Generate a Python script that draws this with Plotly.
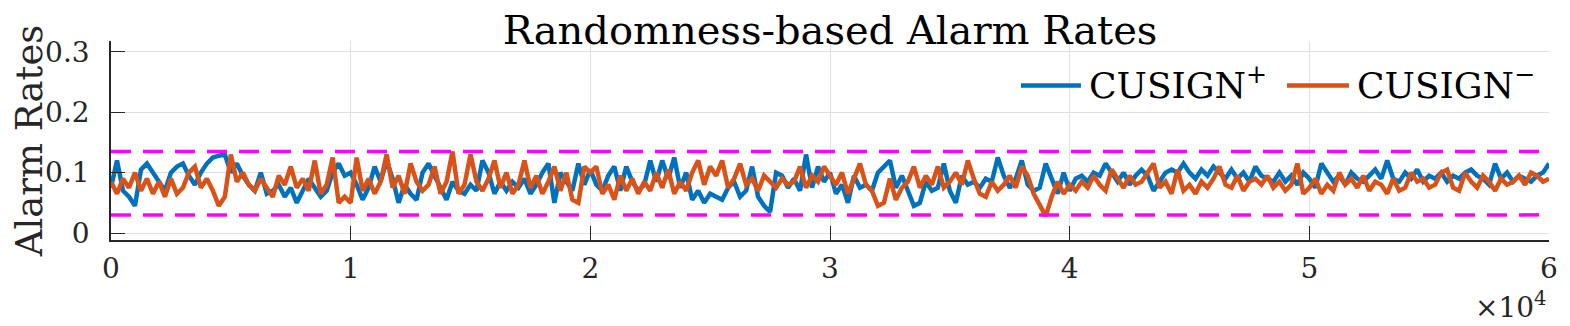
import plotly.graph_objects as go

SAMPLE_STEP = 250

CUSIGN_PLUS = [
    0.075, 0.12, 0.07, 0.06, 0.045, 0.105, 0.115, 0.1, 0.085, 0.07,
    0.1, 0.11, 0.115, 0.095, 0.08, 0.1, 0.115, 0.125, 0.128, 0.13,
    0.1, 0.115, 0.095, 0.08, 0.07, 0.1, 0.065, 0.07, 0.08, 0.06,
    0.075, 0.05, 0.07, 0.09, 0.075, 0.06, 0.07, 0.1, 0.115, 0.095,
    # 1e4
    0.1, 0.08, 0.055, 0.075, 0.11, 0.085, 0.12, 0.09, 0.05, 0.08,
    0.065, 0.055, 0.1, 0.115, 0.095, 0.075, 0.055, 0.085, 0.07, 0.065,
    0.08, 0.07, 0.12, 0.1, 0.065, 0.085, 0.07, 0.085, 0.075, 0.09,
    0.065, 0.08, 0.1, 0.115, 0.05, 0.1, 0.085, 0.07, 0.115, 0.08,
    # 2e4
    0.105, 0.08, 0.07, 0.095, 0.11, 0.07, 0.11, 0.085, 0.07, 0.08,
    0.12, 0.085, 0.12, 0.09, 0.125, 0.075, 0.1, 0.055, 0.07, 0.05,
    0.065, 0.06, 0.055, 0.075, 0.085, 0.06, 0.07, 0.11, 0.06, 0.045,
    0.035, 0.1, 0.095, 0.075, 0.09, 0.07, 0.13, 0.075, 0.11, 0.085,
    # 3e4
    0.1, 0.065, 0.08, 0.05, 0.095, 0.075, 0.08, 0.07, 0.1, 0.11,
    0.12, 0.075, 0.095, 0.07, 0.045, 0.05, 0.085, 0.07, 0.075, 0.115,
    0.07, 0.05, 0.095, 0.08, 0.085, 0.075, 0.09, 0.085, 0.125, 0.095,
    0.075, 0.09, 0.12, 0.08, 0.07, 0.075, 0.115, 0.09, 0.065, 0.1,
    # 4e4
    0.07, 0.09, 0.095, 0.085, 0.1, 0.095, 0.115, 0.1, 0.085, 0.1,
    0.08, 0.095, 0.105, 0.095, 0.07, 0.085, 0.1, 0.105, 0.1, 0.115,
    0.1, 0.09, 0.105, 0.095, 0.11, 0.1, 0.09, 0.105, 0.09, 0.1,
    0.085, 0.11, 0.095, 0.09, 0.085, 0.1, 0.085, 0.095, 0.08, 0.1,
    # 5e4
    0.09, 0.075, 0.115, 0.1, 0.085, 0.095, 0.08, 0.1, 0.09, 0.085,
    0.095, 0.105, 0.09, 0.12, 0.09, 0.085, 0.1, 0.09, 0.105, 0.085,
    0.095, 0.09, 0.1, 0.085, 0.095, 0.09, 0.1, 0.105, 0.095, 0.09,
    0.08, 0.115, 0.09, 0.1, 0.085, 0.095, 0.09, 0.085, 0.095, 0.1,
    0.115,
]

CUSIGN_MINUS = [
    0.085, 0.065, 0.09, 0.075, 0.1, 0.07, 0.09, 0.065, 0.085, 0.06,
    0.09, 0.065, 0.075, 0.1, 0.11, 0.075, 0.09, 0.07, 0.045, 0.06,
    0.13, 0.085, 0.1, 0.08, 0.07, 0.09, 0.075, 0.06, 0.095, 0.08,
    0.11, 0.075, 0.09, 0.07, 0.12, 0.065, 0.08, 0.125, 0.05, 0.06,
    # 1e4
    0.05, 0.125, 0.07, 0.09, 0.065, 0.085, 0.13, 0.075, 0.095, 0.065,
    0.115, 0.085, 0.07, 0.08, 0.11, 0.065, 0.085, 0.135, 0.065, 0.08,
    0.13, 0.085, 0.07, 0.09, 0.12, 0.075, 0.1, 0.065, 0.08, 0.12,
    0.075, 0.095, 0.065, 0.085, 0.11, 0.07, 0.1, 0.055, 0.05, 0.11,
    # 2e4
    0.1, 0.11, 0.065, 0.08, 0.055, 0.095, 0.07, 0.09, 0.065, 0.085,
    0.07, 0.1, 0.075, 0.105, 0.065, 0.085, 0.07, 0.1, 0.12, 0.08,
    0.11, 0.095, 0.12, 0.075, 0.09, 0.115, 0.08, 0.09, 0.07, 0.095,
    0.085, 0.075, 0.09, 0.08, 0.085, 0.11, 0.075, 0.095, 0.085, 0.11,
    # 3e4
    0.095, 0.08, 0.1, 0.065, 0.09, 0.115, 0.08, 0.07, 0.045, 0.05,
    0.09, 0.055, 0.075, 0.085, 0.11, 0.075, 0.095, 0.08, 0.11, 0.075,
    0.085, 0.1, 0.08, 0.12, 0.09, 0.065, 0.06, 0.085, 0.07, 0.08,
    0.095, 0.075, 0.11, 0.095, 0.065, 0.045, 0.028, 0.06, 0.085, 0.065,
    # 4e4
    0.08, 0.07, 0.085, 0.075, 0.095, 0.08, 0.07, 0.105, 0.09, 0.075,
    0.095, 0.08, 0.085, 0.1, 0.115, 0.075, 0.085, 0.065, 0.105, 0.07,
    0.08, 0.065, 0.085, 0.075, 0.09, 0.11, 0.08, 0.075, 0.095, 0.07,
    0.085, 0.09, 0.08, 0.095, 0.075, 0.085, 0.07, 0.08, 0.115, 0.065,
    # 5e4
    0.075, 0.09, 0.065, 0.08, 0.07, 0.1, 0.08, 0.09, 0.075, 0.095,
    0.07, 0.085, 0.08, 0.065, 0.09, 0.07, 0.075, 0.1, 0.085, 0.09,
    0.075, 0.08, 0.1, 0.105, 0.075, 0.07, 0.1, 0.085, 0.075, 0.095,
    0.085, 0.07, 0.09, 0.08, 0.085, 0.095, 0.08, 0.1, 0.095, 0.085,
    0.09,
]

UPPER_LIMIT = 0.135
LOWER_LIMIT = 0.03
X_END = 60000
X_TICKS = [0, 10000, 20000, 30000, 40000, 50000, 60000]
X_TICK_TEXT = ["0", "1", "2", "3", "4", "5", "6"]
Y_TICKS = [0, 0.1, 0.2, 0.3]
Y_TICK_TEXT = ["0", "0.1", "0.2", "0.3"]
SERIES_NAMES = ["CUSIGN<sup>+</sup>", "CUSIGN<sup>\u2212</sup>"]

FONT = "DejaVu Serif"
BLUE, ORANGE, MAGENTA = "#0072BD", "#D95319", "#FF00FF"
AXIS_COL, GRID_COL = "#262626", "#e0e0e0"
LINE_W = 4.5

# the page body adds an 8px margin, so the figure is sized to fit inside it
FIG_W, FIG_H = 1562, 318

x_plus = [i * SAMPLE_STEP for i in range(len(CUSIGN_PLUS))]
x_minus = [i * SAMPLE_STEP for i in range(len(CUSIGN_MINUS))]

fig = go.Figure()
fig.add_trace(go.Scatter(x=x_plus, y=CUSIGN_PLUS, mode="lines",
                         name=SERIES_NAMES[0],
                         line=dict(color=BLUE, width=LINE_W)))
fig.add_trace(go.Scatter(x=x_minus, y=CUSIGN_MINUS, mode="lines",
                         name=SERIES_NAMES[1],
                         line=dict(color=ORANGE, width=LINE_W)))
for lim in (UPPER_LIMIT, LOWER_LIMIT):
    fig.add_trace(go.Scatter(x=[0, X_END], y=[lim, lim], mode="lines",
                             showlegend=False, hoverinfo="skip",
                             line=dict(color=MAGENTA, width=3.5,
                                       dash="20px,12px")))

axis_common = dict(showline=True, linecolor=AXIS_COL, linewidth=1.5,
                   ticks="inside", ticklen=14, tickwidth=1.3,
                   tickcolor=AXIS_COL, showgrid=True, gridcolor=GRID_COL,
                   gridwidth=1, zeroline=False, automargin=False,
                   tickfont=dict(family=FONT, size=28, color="#262626"))

fig.update_xaxes(range=[0, X_END], tickvals=X_TICKS, ticktext=X_TICK_TEXT,
                 ticklabelstandoff=3, **axis_common)
fig.update_yaxes(range=[-0.0116, 0.318], tickvals=Y_TICKS,
                 ticktext=Y_TICK_TEXT, ticklabelstandoff=14,
                 title=dict(text="Alarm Rates", standoff=10,
                            font=dict(family=FONT, size=37, color="#262626")),
                 **axis_common)

fig.add_annotation(text="\u00d710<sup>4</sup>", xref="paper", yref="paper",
                   x=1, y=-0.327, xanchor="right", yanchor="middle",
                   showarrow=False,
                   font=dict(family=FONT, size=28, color="#262626"))

# legend drawn by hand so the sample lines get MATLAB's longer length
legend_items = [(SERIES_NAMES[0], BLUE, 0.6328, 0.6745),
                (SERIES_NAMES[1], ORANGE, 0.8178, 0.8609)]
LEG_LINE_Y, LEG_TEXT_Y = 0.776, 0.79
for name, col, x0, x1 in legend_items:
    fig.add_shape(type="line", xref="paper", yref="paper",
                  x0=x0, x1=x1, y0=LEG_LINE_Y, y1=LEG_LINE_Y,
                  line=dict(color=col, width=LINE_W))
    fig.add_annotation(text=name, xref="paper", yref="paper",
                       x=x1 + 0.004, y=LEG_TEXT_Y, xanchor="left",
                       yanchor="middle", showarrow=False,
                       font=dict(family=FONT, size=36, color="black"))

fig.update_layout(
    template="none",
    width=FIG_W, height=FIG_H,
    margin=dict(l=103, r=21, t=33, b=86),
    paper_bgcolor="white", plot_bgcolor="white",
    title=dict(text="Randomness-based Alarm Rates", xref="paper", x=0.5,
               xanchor="center", yref="container", y=0.93,
               yanchor="middle",
               font=dict(family=FONT, size=40, color="black")),
    showlegend=False,
)

fig.write_html("out.html")
